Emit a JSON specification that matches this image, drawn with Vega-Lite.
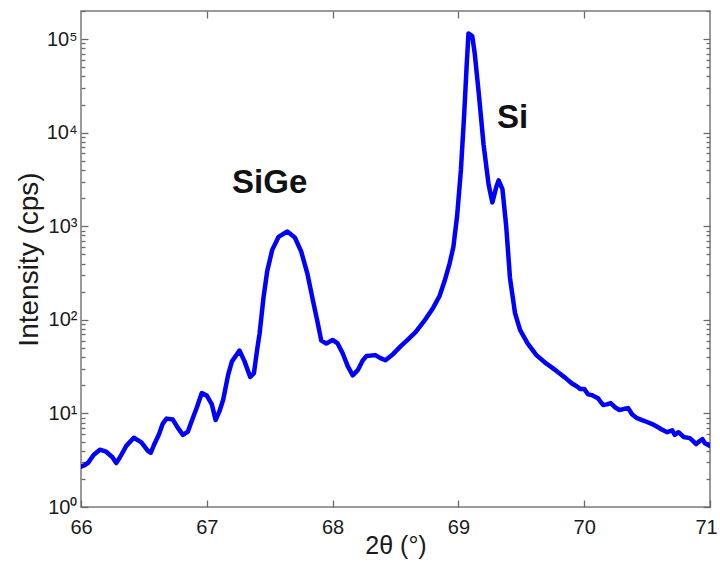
{
  "$schema": "https://vega.github.io/schema/vega-lite/v6.json",
  "width": 629,
  "height": 496,
  "autosize": {"type": "none"},
  "padding": {"left": 81, "top": 11, "right": 10, "bottom": 56},
  "background": "white",
  "config": {
    "view": {"stroke": "#7a7a7a", "strokeWidth": 1.5},
    "font": "Liberation Sans",
    "axis": {
      "grid": false,
      "domain": false,
      "tickColor": "#6a6a6a",
      "tickWidth": 1.3,
      "labelFont": "Liberation Sans",
      "labelColor": "#1a1a1a",
      "labelFontSize": 20,
      "titleFont": "Liberation Sans",
      "titleFontSize": 28,
      "titleFontWeight": "normal",
      "titleColor": "#1a1a1a"
    }
  },
  "datasets": {
    "xrd": [
      {"t": 66.00, "i": 2.7}, {"t": 66.03, "i": 2.8}, {"t": 66.06, "i": 3.0}, {"t": 66.10, "i": 3.6},
      {"t": 66.15, "i": 4.1}, {"t": 66.20, "i": 3.9}, {"t": 66.25, "i": 3.4}, {"t": 66.28, "i": 2.95},
      {"t": 66.31, "i": 3.4}, {"t": 66.36, "i": 4.5}, {"t": 66.42, "i": 5.5}, {"t": 66.48, "i": 4.9},
      {"t": 66.53, "i": 4.0}, {"t": 66.555, "i": 3.8}, {"t": 66.58, "i": 4.6}, {"t": 66.62, "i": 6.0},
      {"t": 66.65, "i": 7.8}, {"t": 66.68, "i": 8.8}, {"t": 66.73, "i": 8.6}, {"t": 66.77, "i": 7.0},
      {"t": 66.81, "i": 5.9}, {"t": 66.85, "i": 6.4}, {"t": 66.88, "i": 8.3}, {"t": 66.92, "i": 11.5},
      {"t": 66.96, "i": 16.5}, {"t": 67.00, "i": 15.5}, {"t": 67.04, "i": 12.5}, {"t": 67.07, "i": 8.5},
      {"t": 67.10, "i": 10.5}, {"t": 67.13, "i": 14}, {"t": 67.17, "i": 26}, {"t": 67.20, "i": 36},
      {"t": 67.26, "i": 47}, {"t": 67.30, "i": 36}, {"t": 67.345, "i": 24.5}, {"t": 67.375, "i": 27},
      {"t": 67.40, "i": 48}, {"t": 67.42, "i": 72}, {"t": 67.45, "i": 170}, {"t": 67.48, "i": 330},
      {"t": 67.52, "i": 560}, {"t": 67.57, "i": 770}, {"t": 67.64, "i": 880}, {"t": 67.70, "i": 760},
      {"t": 67.75, "i": 540}, {"t": 67.80, "i": 310}, {"t": 67.84, "i": 170}, {"t": 67.88, "i": 95},
      {"t": 67.91, "i": 60}, {"t": 67.95, "i": 56}, {"t": 68.00, "i": 61}, {"t": 68.04, "i": 56},
      {"t": 68.08, "i": 44}, {"t": 68.12, "i": 32}, {"t": 68.16, "i": 25.5}, {"t": 68.20, "i": 29},
      {"t": 68.24, "i": 37}, {"t": 68.27, "i": 41}, {"t": 68.34, "i": 42}, {"t": 68.38, "i": 39},
      {"t": 68.42, "i": 37}, {"t": 68.48, "i": 43}, {"t": 68.54, "i": 52}, {"t": 68.60, "i": 62},
      {"t": 68.66, "i": 74}, {"t": 68.73, "i": 98}, {"t": 68.80, "i": 135}, {"t": 68.85, "i": 180},
      {"t": 68.89, "i": 260}, {"t": 68.93, "i": 400}, {"t": 68.96, "i": 600}, {"t": 68.99, "i": 1300},
      {"t": 69.02, "i": 4000}, {"t": 69.045, "i": 15000}, {"t": 69.065, "i": 50000}, {"t": 69.08, "i": 115000},
      {"t": 69.11, "i": 108000}, {"t": 69.13, "i": 70000}, {"t": 69.16, "i": 28000}, {"t": 69.20, "i": 7500},
      {"t": 69.24, "i": 2800}, {"t": 69.27, "i": 1800}, {"t": 69.30, "i": 2600}, {"t": 69.32, "i": 3100},
      {"t": 69.35, "i": 2500}, {"t": 69.38, "i": 1000}, {"t": 69.41, "i": 280}, {"t": 69.45, "i": 118},
      {"t": 69.49, "i": 78}, {"t": 69.55, "i": 56}, {"t": 69.62, "i": 42}, {"t": 69.70, "i": 34},
      {"t": 69.75, "i": 30.5}, {"t": 69.80, "i": 27}, {"t": 69.85, "i": 24}, {"t": 69.90, "i": 21},
      {"t": 69.94, "i": 19.5}, {"t": 69.97, "i": 18.2}, {"t": 70.00, "i": 18.3}, {"t": 70.03, "i": 16},
      {"t": 70.06, "i": 15.7}, {"t": 70.09, "i": 15}, {"t": 70.11, "i": 14.5}, {"t": 70.15, "i": 12.3},
      {"t": 70.18, "i": 12.5}, {"t": 70.21, "i": 12.9}, {"t": 70.25, "i": 11.5}, {"t": 70.28, "i": 10.9},
      {"t": 70.32, "i": 11.2}, {"t": 70.35, "i": 11.4}, {"t": 70.38, "i": 9.8}, {"t": 70.42, "i": 8.9},
      {"t": 70.46, "i": 8.5}, {"t": 70.50, "i": 8.1}, {"t": 70.54, "i": 7.7}, {"t": 70.58, "i": 7.2},
      {"t": 70.62, "i": 6.7}, {"t": 70.66, "i": 6.3}, {"t": 70.70, "i": 6.6}, {"t": 70.72, "i": 5.9},
      {"t": 70.75, "i": 6.3}, {"t": 70.79, "i": 5.6}, {"t": 70.84, "i": 5.45}, {"t": 70.87, "i": 5.0},
      {"t": 70.89, "i": 4.7}, {"t": 70.92, "i": 5.1}, {"t": 70.94, "i": 5.3}, {"t": 70.96, "i": 4.8},
      {"t": 71.00, "i": 4.5}
    ],
    "labels": [
      {"t": 67.50, "i": 2900, "label": "SiGe"},
      {"t": 69.43, "i": 14300, "label": "Si"}
    ]
  },
  "layer": [
    {
      "data": {"name": "xrd"},
      "mark": {"type": "line", "color": "#0000ff", "strokeWidth": 4.5, "strokeJoin": "round", "strokeCap": "round", "clip": true},
      "encoding": {
        "x": {
          "field": "t", "type": "quantitative",
          "scale": {"domain": [66, 71], "nice": false, "zero": false},
          "axis": {
            "orient": "bottom", "title": "2θ (°)", "values": [66, 67, 68, 69, 70, 71],
            "tickSize": -7, "labelPadding": 17, "labelFlush": false, "format": "d", "titlePadding": -4,
            "labelFontSize": 20, "titleFontSize": 25,
            "labelOffset": {"condition": {"test": "datum.value == 71", "value": -4}, "value": 0}
          }
        },
        "y": {
          "field": "i", "type": "quantitative",
          "scale": {"type": "log", "domain": [1, 200000], "nice": false},
          "axis": {
            "orient": "left", "title": "Intensity (cps)",
            "values": [1,2,3,4,5,6,7,8,9,10,20,30,40,50,60,70,80,90,100,200,300,400,500,600,700,800,900,1000,2000,3000,4000,5000,6000,7000,8000,9000,10000,20000,30000,40000,50000,60000,70000,80000,90000,100000,200000],
            "labelExpr": "abs(log(datum.value)/LN10 - round(log(datum.value)/LN10)) < 0.001 ? '10' + ['⁰','¹','²','³','⁴','⁵','⁶'][round(log(datum.value)/LN10)] : ''",
            "labelOverlap": false,
            "tickSize": {"condition": {"test": "abs(log(datum.value)/LN10 - round(log(datum.value)/LN10)) < 0.001", "value": -7}, "value": -4},
            "labelPadding": 11, "titlePadding": 3
          }
        }
      }
    },
    {
      "data": {"name": "labels"},
      "mark": {"type": "text", "fontSize": 33, "fontWeight": "bold", "font": "Liberation Sans", "color": "#111111"},
      "encoding": {
        "x": {
          "field": "t", "type": "quantitative",
          "scale": {"domain": [66, 71], "nice": false, "zero": false},
          "axis": {"orient": "top", "title": null, "values": [67, 68, 69, 70], "labels": false, "tickSize": -7}
        },
        "y": {
          "field": "i", "type": "quantitative",
          "scale": {"type": "log", "domain": [1, 200000], "nice": false},
          "axis": {
            "orient": "right", "title": null, "labels": false,
            "values": [1,2,3,4,5,6,7,8,9,10,20,30,40,50,60,70,80,90,100,200,300,400,500,600,700,800,900,1000,2000,3000,4000,5000,6000,7000,8000,9000,10000,20000,30000,40000,50000,60000,70000,80000,90000,100000,200000],
            "tickSize": {"condition": {"test": "abs(log(datum.value)/LN10 - round(log(datum.value)/LN10)) < 0.001", "value": -7}, "value": -4}
          }
        },
        "text": {"field": "label"}
      }
    }
  ],
  "resolve": {"axis": {"x": "independent", "y": "independent"}}
}
